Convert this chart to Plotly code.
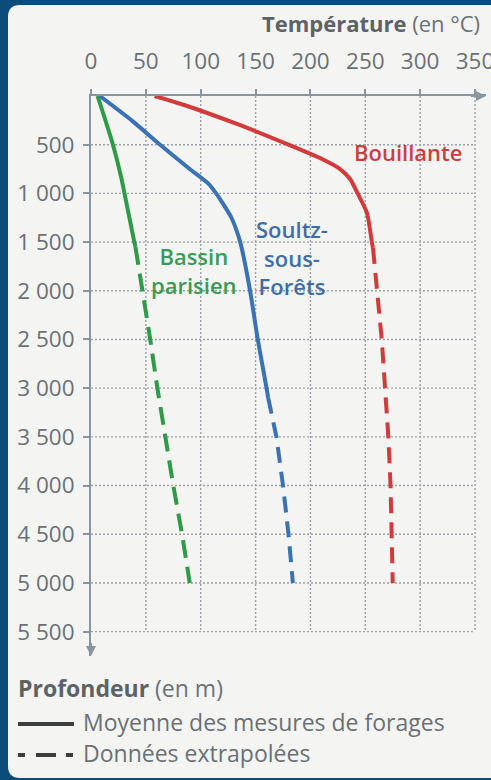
import plotly.graph_objects as go

# ---------------- data ----------------
x_ticks = [0, 50, 100, 150, 200, 250, 300, 350]
y_ticks = [500, 1000, 1500, 2000, 2500, 3000, 3500, 4000, 4500, 5000, 5500]
y_tick_text = ["500", "1 000", "1 500", "2 000", "2 500", "3 000", "3 500",
               "4 000", "4 500", "5 000", "5 500"]

# Bassin parisien
bp_depth_meas = [0, 500, 860, 1000, 1500, 1550]
bp_temp_meas = [6, 20, 28, 30.5, 39.5, 40.5]
bp_depth_extr = [1550, 2000, 2500, 3000, 3500, 4000, 4500, 5000]
bp_temp_extr = [40.5, 47, 54, 60.5, 67.5, 75, 83, 90]

# Soultz-sous-Forêts
ss_depth_meas = [0, 250, 500, 750, 900, 1000, 1100, 1250, 1500, 2000, 2500, 3000, 3100]
ss_temp_meas = [8, 37, 63, 90, 107, 114, 120, 128, 136, 145, 152, 160, 161.5]
ss_depth_extr = [3100, 3500, 4000, 4500, 5000]
ss_temp_extr = [161.5, 169, 175, 180, 184]

# Bouillante
bo_depth_meas = [0, 100, 300, 500, 650, 750, 850, 1000, 1200, 1500, 1560]
bo_temp_meas = [58, 87, 136, 180, 211, 227, 236, 243, 251.5, 256, 257]
bo_depth_extr = [1560, 2000, 2500, 3000, 3500, 4000, 4500, 5000]
bo_temp_extr = [257, 261, 265, 268, 271, 273, 274, 275]

# ---------------- styling ----------------
W_FIG, H_FIG = 491, 780
L, R, T, B = 91, 5, 96, 124
W = W_FIG - L - R
H = H_FIG - T - B

def xp(px):
    return (px - L) / W

def yp(py):
    return 1 - (py - T) / H

FONT = "Open Sans"
FS = 22.5
GRAY = "#6b7075"
AXC = "#8795a2"
GREEN = "#2f9a47"
BLUE = "#3a72b3"
RED = "#d23b3b"
BG = "#f4f5f3"
FRAME = "#0b4d7a"

fig = go.Figure()

def add_curve(d_meas, t_meas, d_extr, t_extr, color, dash):
    fig.add_trace(go.Scatter(x=t_meas, y=d_meas, mode="lines",
                             line=dict(color=color, width=4, shape="spline",
                                       smoothing=0.6),
                             showlegend=False, hoverinfo="skip"))
    fig.add_trace(go.Scatter(x=t_extr, y=d_extr, mode="lines",
                             line=dict(color=color, width=4, dash=dash),
                             showlegend=False, hoverinfo="skip"))

add_curve(bp_depth_meas, bp_temp_meas, bp_depth_extr, bp_temp_extr, GREEN, "18px,9px")
add_curve(ss_depth_meas, ss_temp_meas, ss_depth_extr, ss_temp_extr, BLUE, "16px,9px")
add_curve(bo_depth_meas, bo_temp_meas, bo_depth_extr, bo_temp_extr, RED, "16px,9px")

shapes = []
# panel with rounded left corners
x0, x1 = xp(8), xp(495)
y0, y1 = yp(5), yp(778)
rx, ry = 12 / W, 12 / H
shapes.append(dict(
    type="path", xref="paper", yref="paper", layer="below",
    path=(f"M {x0},{y0 - ry} Q {x0},{y0} {x0 + rx},{y0} L {x1},{y0} L {x1},{y1} "
          f"L {x0 + rx},{y1} Q {x0},{y1} {x0},{y1 + ry} Z"),
    fillcolor=BG, line=dict(width=0)))

# dotted grid (ends at 350 / 5500)
GRID = "#9ba1a7"
for xv in x_ticks[1:]:
    shapes.append(dict(type="line", xref="x", yref="y", layer="below",
                       x0=xv, x1=xv, y0=0, y1=y_ticks[-1],
                       line=dict(color=GRID, width=1.4, dash="2px,2px")))
for yv in y_ticks:
    shapes.append(dict(type="line", xref="x", yref="y", layer="below",
                       x0=0, x1=x_ticks[-1], y0=yv, y1=yv,
                       line=dict(color=GRID, width=1.4, dash="2px,2px")))

# legend samples
LEG = "#3b3d3f"
shapes.append(dict(type="line", xref="paper", yref="paper",
                   x0=xp(18), x1=xp(74), y0=yp(724), y1=yp(724),
                   line=dict(color=LEG, width=4)))
for a, b in [(18, 25), (36, 56), (66, 73)]:
    shapes.append(dict(type="line", xref="paper", yref="paper",
                       x0=xp(a), x1=xp(b), y0=yp(755), y1=yp(755),
                       line=dict(color=LEG, width=4)))

annotations = []
# axis arrows
annotations.append(dict(x=360, y=0, ax=345, ay=0, xref="x", yref="y",
                        axref="x", ayref="y", showarrow=True, arrowhead=2,
                        arrowsize=1, arrowwidth=2, arrowcolor=AXC, text=""))
annotations.append(dict(x=0, y=5750, ax=0, ay=5600, xref="x", yref="y",
                        axref="x", ayref="y", showarrow=True, arrowhead=2,
                        arrowsize=1, arrowwidth=2, arrowcolor=AXC, text=""))

def txt(text, px, py, size, color, xanchor="center", weight=None):
    f = dict(family=FONT, size=size, color=color)
    if weight:
        f["weight"] = weight
    annotations.append(dict(text=text, x=xp(px), y=yp(py), xref="paper",
                            yref="paper", showarrow=False, xanchor=xanchor,
                            yanchor="middle", font=f, align="center"))

txt("<span style='color:#5d6266'><b>Température</b></span> (en °C)", 482, 23, 22, GRAY, "right")
txt("<span style='color:#5d6266'><b>Profondeur</b></span> (en m)", 16, 688, 23, GRAY, "left")
txt("Moyenne des mesures de forages", 81, 722, 23, GRAY, "left")
txt("Données extrapolées", 81, 753, 23, GRAY, "left")

txt("Bouillante", 408, 152, 22, "#c8413f", weight=600)
txt("Soultz-<br>sous-<br>Forêts", 292, 257, 22, "#3f6ea6", weight=600)
txt("Bassin<br>parisien", 194, 270, 22, "#3d9a55", weight=600)

fig.update_layout(
    width=W_FIG, height=H_FIG,
    margin=dict(l=L, r=R, t=T, b=B, pad=0, autoexpand=False),
    paper_bgcolor=FRAME, plot_bgcolor="rgba(0,0,0,0)",
    shapes=shapes, annotations=annotations,
    showlegend=False,
    xaxis=dict(side="top", range=[0, 360], tickvals=x_ticks,
               showgrid=False, zeroline=False, showline=True,
               linecolor=AXC, linewidth=2, ticks="outside", ticklen=5,
               tickwidth=2, tickcolor=AXC, ticklabelstandoff=11,
               ticklabeloverflow="allow", automargin=False,
               tickfont=dict(family=FONT, size=FS, color=GRAY)),
    yaxis=dict(range=[5750, 0], tickvals=y_ticks, ticktext=y_tick_text,
               showgrid=False, zeroline=False, showline=True,
               linecolor=AXC, linewidth=2, ticks="outside", ticklen=6,
               tickwidth=2, tickcolor=AXC, ticklabelstandoff=4,
               automargin=False,
               tickfont=dict(family=FONT, size=FS, color=GRAY)),
)

fig.write_html("out.html", config={"displayModeBar": False},
               post_script="document.body.style.margin='0';")
